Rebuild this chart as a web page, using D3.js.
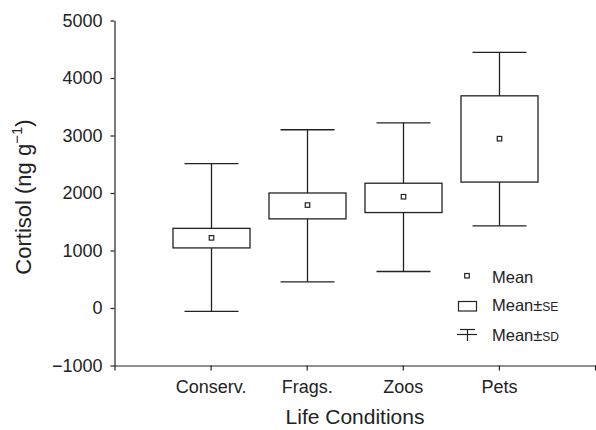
<!DOCTYPE html>
<html><head><meta charset="utf-8">
<script src="https://cdn.jsdelivr.net/npm/d3@7"></script>
<style>
html,body{margin:0;padding:0;background:#fff;}
svg text{font-family:"Liberation Sans",Arial,Helvetica,sans-serif;fill:#222;}
</style></head>
<body><svg id="c" width="596" height="430"></svg>
<script>
const categories = ["Conserv.", "Frags.", "Zoos", "Pets"];
const means   = [1220, 1790, 1935, 2945];
const seLow   = [1045, 1550, 1660, 2190];
const seHigh  = [1385, 2000, 2170, 3690];
const sdLow   = [-60, 455, 635, 1430];
const sdHigh  = [2510, 3100, 3220, 4445];
const yTicks  = [-1000, 0, 1000, 2000, 3000, 4000, 5000];
const legendLabels = ["Mean", "Mean±SE", "Mean±SD"];

const data = categories.map((c, i) => ({c, i: i + 1, mean: means[i], seL: seLow[i], seH: seHigh[i], sdL: sdLow[i], sdH: sdHigh[i]}));

const svg = d3.select("#c");
const ink = "#222";
const x = d3.scaleLinear().domain([0, 5]).range([114.5, 595]);
const y = d3.scaleLinear().domain([-1000, 5000]).range([365.5, 20.5]);

// Y axis
const ya = svg.append("g").attr("transform", "translate(114.5,0)")
  .call(d3.axisLeft(y).tickValues(yTicks).tickSize(4).tickSizeOuter(0).tickPadding(8).tickFormat(d3.format("d")));
ya.select(".domain").attr("stroke", ink).attr("stroke-width", 1.2);
ya.selectAll(".tick line").attr("stroke", ink).attr("stroke-width", 1.2);
ya.selectAll("text").attr("font-size", 18).attr("fill", ink).attr("font-family", "Liberation Sans, Arial, sans-serif");

// X axis
const xa = svg.append("g").attr("transform", "translate(0,365.5)")
  .call(d3.axisBottom(x).tickValues([0, 1, 2, 3, 4, 5]).tickSize(5).tickSizeOuter(0).tickPadding(10)
    .tickFormat(d => (d >= 1 && d <= 4) ? categories[d - 1] : ""));
xa.select(".domain").attr("stroke", ink).attr("stroke-width", 1.2);
xa.selectAll(".tick line").attr("stroke", ink).attr("stroke-width", 1.2);
xa.selectAll("text").attr("font-size", 18).attr("fill", ink).attr("font-family", "Liberation Sans, Arial, sans-serif");

// Boxes
const boxW = 77, capW = 54, mk = 4.5;
const g = svg.append("g").attr("stroke", ink).attr("stroke-width", 1.3).attr("fill", "none");
data.forEach(d => {
  const cx = Math.round(x(d.i)) + 0.5;
  g.append("line").attr("x1", cx).attr("x2", cx).attr("y1", y(d.sdH)).attr("y2", y(d.seH));
  g.append("line").attr("x1", cx).attr("x2", cx).attr("y1", y(d.seL)).attr("y2", y(d.sdL));
  g.append("line").attr("x1", cx - capW / 2).attr("x2", cx + capW / 2).attr("y1", y(d.sdH)).attr("y2", y(d.sdH));
  g.append("line").attr("x1", cx - capW / 2).attr("x2", cx + capW / 2).attr("y1", y(d.sdL)).attr("y2", y(d.sdL));
  g.append("rect").attr("x", cx - boxW / 2).attr("width", boxW)
    .attr("y", y(d.seH)).attr("height", y(d.seL) - y(d.seH)).attr("fill", "#fff");
  g.append("rect").attr("x", cx - mk / 2).attr("y", y(d.mean) - mk / 2).attr("width", mk).attr("height", mk)
    .attr("fill", "#fff").attr("stroke-width", 1.2);
});

// Axis titles
svg.append("text").attr("x", 355).attr("y", 424).attr("text-anchor", "middle").attr("font-size", 21).text("Life Conditions");
const yl = svg.append("text").attr("transform", "translate(31,197) rotate(-90)").attr("text-anchor", "middle").attr("font-size", 22);
yl.append("tspan").text("Cortisol (ng g");
yl.append("tspan").attr("font-size", 15).attr("dy", -9).text("−1");
yl.append("tspan").attr("dy", 9).text(")");

// Legend
const lg = svg.append("g");
const lx = 492;
lg.append("rect").attr("x", 464.75).attr("y", 273.5).attr("width", 4.5).attr("height", 4.5).attr("fill", "#fff").attr("stroke", ink).attr("stroke-width", 1.2);
lg.append("rect").attr("x", 458.5).attr("y", 301.5).attr("width", 18).attr("height", 9.5).attr("fill", "#fff").attr("stroke", ink).attr("stroke-width", 1.2);
lg.append("line").attr("x1", 460).attr("x2", 475).attr("y1", 329.5).attr("y2", 329.5).attr("stroke", ink).attr("stroke-width", 1.2);
lg.append("line").attr("x1", 457).attr("x2", 477).attr("y1", 334.5).attr("y2", 334.5).attr("stroke", ink).attr("stroke-width", 1.2);
lg.append("line").attr("x1", 467.5).attr("x2", 467.5).attr("y1", 329.5).attr("y2", 341).attr("stroke", ink).attr("stroke-width", 1.2);
const ly = [283, 311, 341];
legendLabels.forEach((t, i) => {
  const tx = lg.append("text").attr("x", lx).attr("y", ly[i]).attr("font-size", 16.5);
  if (i === 0) tx.text(t);
  else { tx.append("tspan").text("Mean±"); tx.append("tspan").attr("font-size", 12).text(t.slice(5)); }
});
</script></body></html>
